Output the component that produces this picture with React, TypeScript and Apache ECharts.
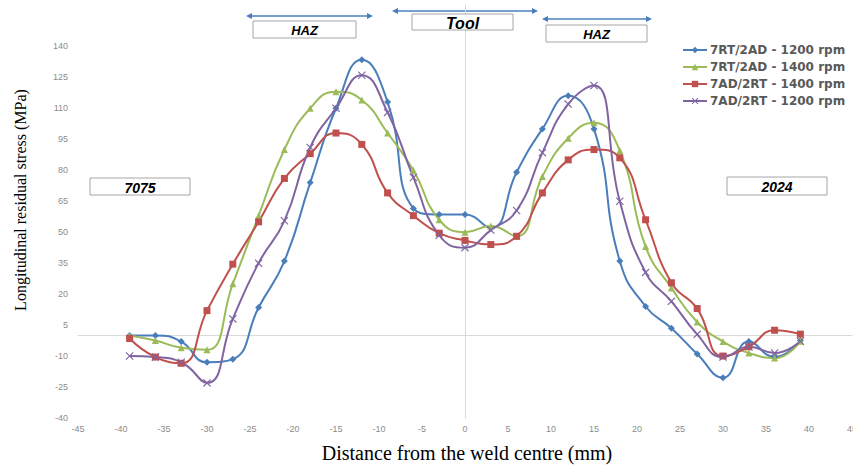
import React, { useEffect, useRef } from "react";
import * as echarts from "echarts";

const xValues = [-39, -36, -33, -30, -27, -24, -21, -18, -15, -12, -9, -6, -3, 0, 3, 6, 9, 12, 15, 18, 21, 24, 27, 30, 33, 36, 39];

const seriesNames = [
  "7RT/2AD - 1200 rpm",
  "7RT/2AD - 1400 rpm",
  "7AD/2RT - 1400 rpm",
  "7AD/2RT - 1200 rpm",
];

const rt2ad1200 = [0, 0, -3, -13, -11.5, 13.5, 36, 74, 110, 133.5, 113, 61.5, 58.5, 58.5, 52, 79, 100, 116, 100, 36, 14, 3.5, -9, -20.5, -3, -10.5, -2.5];
const rt2ad1400 = [0, -2.5, -6, -7, 25, 58, 90, 110, 118, 114, 98, 80, 56, 50, 53, 48, 77, 95.5, 103, 89.5, 43, 23, 6.5, -3, -8.5, -11, -2.8];
const ad2rt1400 = [-1.5, -10.5, -13.5, 12, 34.5, 55, 76, 88, 98, 92.5, 69, 58, 49.5, 46, 44, 48, 69, 85, 90, 86, 56, 25.5, 13, -10, -5.5, 2.5, 0.6];
const ad2rt1200 = [-10, -10.5, -13, -23, 8, 35, 55.5, 91, 110, 126, 108, 76.5, 48.5, 42.5, 51, 60.5, 88.5, 112, 121, 65, 30.5, 16.5, 0.5, -10.5, -5.5, -8.5, -2.8];

const seriesValues = [rt2ad1200, rt2ad1400, ad2rt1400, ad2rt1200];
const seriesColors = ["#4a7ebb", "#9bbb59", "#c0504d", "#8064a2"];
const crossPath = "path://M1,0L5,4L9,0L10,1L6,5L10,9L9,10L5,6L1,10L0,9L4,5L0,1Z";
const seriesSymbols = ["diamond", "triangle", "rect", crossPath];
const seriesSymbolSizes = [7, 7, 7, 8];

const xName = "Distance from the weld centre (mm)";
const yName = "Longitudinal residual stress (MPa)";

const arrowColor = "#4a7ebb";

function arrow(x1: number, x2: number, y: number) {
  const h = 6;
  const w = 3;
  return [
    { type: "line", shape: { x1: x1 + 3, y1: y, x2: x2 - 3, y2: y }, style: { stroke: arrowColor, lineWidth: 1.5 } },
    { type: "polygon", shape: { points: [[x1, y], [x1 + h, y - w], [x1 + h, y + w]] }, style: { fill: arrowColor } },
    { type: "polygon", shape: { points: [[x2, y], [x2 - h, y - w], [x2 - h, y + w]] }, style: { fill: arrowColor } },
  ];
}

function labelBox(x: number, y: number, w: number, h: number, text: string, size: number) {
  return [
    { type: "rect", shape: { x, y, width: w, height: h }, style: { fill: "#ffffff", stroke: "#a6a6a6", lineWidth: 1 }, z: 10 },
    {
      type: "text",
      x: x + w / 2,
      y: y + h / 2 + 1,
      z: 11,
      style: {
        text,
        fill: "#000000",
        font: `italic bold ${size}px "Liberation Sans", Arial, sans-serif`,
        align: "center",
        verticalAlign: "middle",
      },
    },
  ];
}

export default function App() {
  const ref = useRef<HTMLDivElement>(null);
  useEffect(() => {
    if (!ref.current) return;
    const chart = echarts.init(ref.current, null, { renderer: "svg" });
    const series = seriesNames.map((name, i) => ({
      name,
      type: "line",
      smooth: 0.5,
      data: xValues.map((x, j) => [x, seriesValues[i][j]]),
      symbol: seriesSymbols[i],
      symbolSize: seriesSymbolSizes[i],
      showAllSymbol: true,
      itemStyle: { color: seriesColors[i] },
      lineStyle: { color: seriesColors[i], width: 2 },
      z: 3,
    }));
    chart.setOption({
      animation: false,
      grid: { left: 78, right: 1, top: 5, bottom: 48, containLabel: false, outerBoundsMode: "none" },
      legend: {
        orient: "vertical",
        left: 682,
        top: 44,
        padding: 0,
        itemWidth: 24,
        itemHeight: 8,
        itemGap: 5,
        data: seriesNames,
        textStyle: { color: "#595959", fontSize: 12, fontWeight: "bold", fontFamily: "DejaVu Sans, sans-serif", padding: [0, 0, 0, -2] },
      },
      xAxis: {
        type: "value",
        min: -45,
        max: 45,
        interval: 5,
        axisLine: { onZero: true, lineStyle: { color: "#d9d9d9", width: 1 } },
        axisTick: { show: false },
        splitLine: { show: false },
        axisLabel: { color: "#8c8c8c", fontSize: 9, margin: 6, fontFamily: "Liberation Sans, Arial, sans-serif" },
      },
      yAxis: {
        type: "value",
        min: -40,
        max: 160,
        interval: 15,
        axisLine: { show: true, onZero: true, lineStyle: { color: "#d9d9d9", width: 1 } },
        axisTick: { show: false },
        splitLine: { show: false },
        axisLabel: {
          color: "#8c8c8c",
          fontSize: 9,
          margin: 10,
          fontFamily: "Liberation Sans, Arial, sans-serif",
          formatter: (v: number) => (v > 140 ? "" : String(v)),
        },
      },
      graphic: [
        ...arrow(246, 373, 16),
        ...arrow(392, 538, 11),
        ...arrow(542, 652, 19),
        ...labelBox(253, 21, 103, 17, "HAZ", 13),
        ...labelBox(412, 14, 101, 16, "Tool", 16),
        ...labelBox(546, 25, 101, 17, "HAZ", 13),
        ...labelBox(90, 178, 100, 17, "7075", 14),
        ...labelBox(727, 177, 100, 18, "2024", 14),
        {
          type: "text",
          x: 467,
          y: 453,
          style: {
            text: xName,
            fill: "#000000",
            font: '20px "Liberation Serif", "Times New Roman", serif',
            align: "center",
            verticalAlign: "middle",
          },
        },
        {
          type: "text",
          x: 20,
          y: 200,
          rotation: Math.PI / 2,
          style: {
            text: yName,
            fill: "#000000",
            font: '16px "Liberation Serif", "Times New Roman", serif',
            align: "center",
            verticalAlign: "middle",
          },
        },
      ],
      series,
    });
    return () => chart.dispose();
  }, []);
  return <div ref={ref} style={{ width: 853, height: 466, position: "absolute", left: 0, top: 0 }} />;
}
